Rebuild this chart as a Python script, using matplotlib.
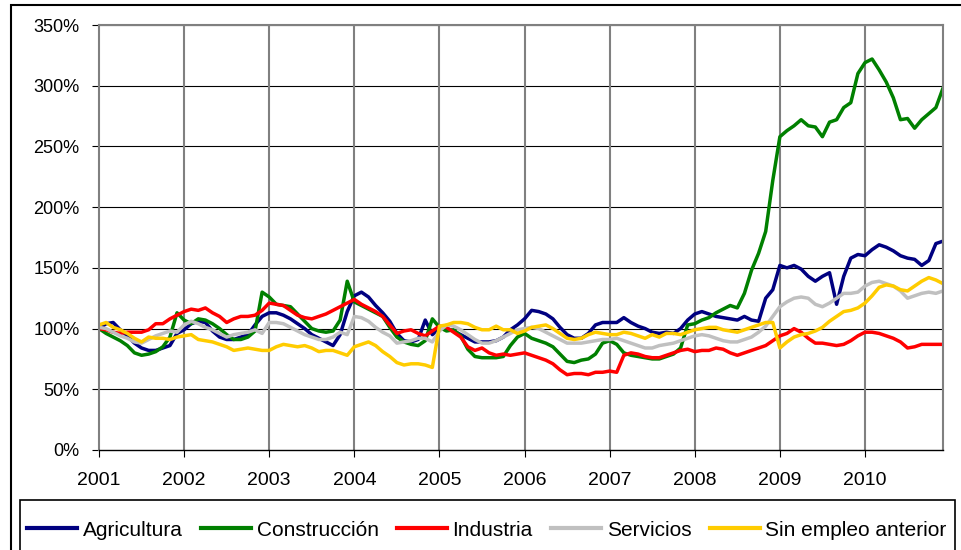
import numpy as np
import matplotlib
matplotlib.use("Agg")
import matplotlib.pyplot as plt
from matplotlib.patches import Rectangle
from matplotlib.lines import Line2D

plt.rcParams['font.family'] = ['Liberation Sans', 'DejaVu Sans']

# datos mensuales ene-2001 .. dic-2010 (indice, 2001 = 100%)
years = ['2001', '2002', '2003', '2004', '2005', '2006', '2007', '2008', '2009', '2010']

agricultura = [
    100, 104, 105, 99, 94, 88, 84, 82, 82, 84, 86, 96,
    99, 104, 106, 105, 98, 93, 91, 91, 93, 95, 103, 110,
    113, 113, 111, 108, 104, 100, 95, 92, 89, 86, 95, 114,
    127, 130, 126, 119, 113, 106, 96, 90, 89, 91, 107, 95,
    100, 100, 98, 95, 92, 89, 89, 89, 90, 93, 99, 103,
    108, 115, 114, 112, 108, 101, 95, 92, 92, 96, 103, 105,
    105, 105, 109, 105, 102, 100, 97, 96, 97, 96, 100, 107,
    112, 114, 112, 110, 109, 108, 107, 110, 107, 106, 125, 132,
    152, 150, 152, 149, 143, 139, 143, 146, 120, 143, 158, 161,
    160, 165, 169, 167, 164, 160, 158, 157, 152, 156, 170, 172,
]
construccion = [
    100, 96, 93, 90, 86, 80, 78, 79, 81, 85, 93, 113,
    107, 104, 108, 107, 104, 100, 95, 91, 91, 93, 98, 130,
    126, 120, 119, 118, 112, 106, 100, 98, 97, 98, 107, 139,
    122, 119, 116, 113, 110, 101, 93, 89, 87, 86, 90, 108,
    101, 98, 99, 94, 83, 77, 76, 76, 76, 77, 86, 93,
    96, 92, 90, 88, 85, 79, 73, 72, 74, 75, 79, 88,
    90, 87, 80, 78, 77, 76, 75, 75, 77, 79, 84, 103,
    104, 107, 109, 113, 116, 119, 117, 129, 148, 162, 180, 222,
    258, 263, 267, 272, 267, 266, 258, 270, 272, 282, 286, 310,
    319, 322, 313, 303, 290, 272, 273, 265, 272, 277, 282, 298,
]
industria = [
    100, 99, 97, 96, 97, 97, 97, 99, 104, 104, 108, 111,
    114, 116, 115, 117, 113, 110, 105, 108, 110, 110, 111, 115,
    121, 120, 119, 115, 111, 109, 108, 110, 112, 115, 118, 121,
    124, 120, 117, 114, 110, 103, 96, 98, 99, 96, 94, 98,
    102, 101, 97, 93, 85, 82, 84, 80, 78, 79, 78, 79,
    80, 78, 76, 74, 71, 66, 62, 63, 63, 62, 64, 64,
    65, 64, 78, 80, 79, 77, 76, 76, 78, 80, 82, 83,
    81, 82, 82, 84, 83, 80, 78, 80, 82, 84, 86, 90,
    94, 96, 100, 97, 92, 88, 88, 87, 86, 87, 90, 94,
    97, 97, 96, 94, 92, 89, 84, 85, 87, 87, 87, 87,
]
servicios = [
    101, 100, 97, 94, 92, 89, 88, 91, 94, 96, 98, 97,
    103, 106, 104, 101, 99, 96, 93, 95, 96, 97, 99, 96,
    105, 105, 104, 101, 98, 95, 93, 91, 91, 93, 97, 95,
    110, 109, 106, 101, 97, 94, 88, 89, 90, 92, 92, 89,
    98, 103, 102, 99, 95, 91, 88, 88, 90, 93, 96, 99,
    100, 101, 100, 97, 94, 91, 88, 88, 88, 89, 90, 91,
    91, 92, 90, 88, 86, 84, 84, 86, 87, 88, 90, 92,
    94, 95, 94, 92, 90, 89, 89, 91, 93, 97, 102, 110,
    118, 122, 125, 126, 125, 120, 118, 121, 125, 129, 129, 130,
    135, 138, 139, 137, 135, 131, 125, 127, 129, 130, 129, 131,
]
sin_empleo = [
    103, 105, 101, 99, 96, 92, 89, 93, 92, 92, 91, 93,
    94, 95, 91, 90, 89, 87, 85, 82, 83, 84, 83, 82,
    82, 85, 87, 86, 85, 86, 84, 81, 82, 82, 80, 78,
    85, 87, 89, 86, 81, 77, 72, 70, 71, 71, 70, 68,
    102, 103, 105, 105, 104, 101, 99, 99, 102, 99, 99, 96,
    98, 101, 102, 103, 100, 96, 92, 91, 92, 95, 97, 96,
    95, 95, 97, 96, 94, 92, 95, 93, 96, 96, 95, 97,
    99, 100, 101, 101, 99, 98, 97, 99, 101, 103, 105, 105,
    84, 89, 93, 95, 96, 98, 101, 106, 110, 114, 115, 117,
    121, 127, 134, 136, 135, 132, 131, 135, 139, 142, 140, 137,
]

series = [
    ('Agricultura', agricultura, '#000080'),
    ('Construcción', construccion, '#008000'),
    ('Industria', industria, '#FF0000'),
    ('Servicios', servicios, '#C0C0C0'),
    ('Sin empleo anterior', sin_empleo, '#FFCC00'),
]

fig = plt.figure(figsize=(9.61, 5.5), dpi=100)
ax = fig.add_axes([99 / 961, 1 - 450 / 550, (943 - 99) / 961, (450 - 25) / 550])

x = np.arange(120)
for name, vals, col in series:
    ax.plot(x, vals, color=col, linewidth=2.5, label=name, solid_joinstyle='round')

ax.set_xlim(0, 119)
ax.set_ylim(0, 350)
ax.set_yticks(np.arange(0, 351, 50))
ax.set_yticklabels([f'{v}%' for v in range(0, 351, 50)])
ax.set_xticks(np.arange(0, 120, 12))
ax.set_xticklabels(years)

# rejilla: horizontales negras finas, verticales grises
for v in range(50, 351, 50):
    ax.axhline(v, color='black', linewidth=0.8, zorder=0)
for m in range(12, 120, 12):
    ax.axvline(m, color='#808080', linewidth=1.5, zorder=0)

for s in ['top', 'right', 'left']:
    ax.spines[s].set_color('#808080')
    ax.spines[s].set_linewidth(1.5)
ax.spines['bottom'].set_color('black')
ax.spines['bottom'].set_linewidth(1.0)

ax.tick_params(axis='both', length=5, color='black', width=0.8)
ax.tick_params(axis='x', labelsize=14, pad=11)
ax.tick_params(axis='y', labelsize=13, pad=9)

# marco exterior del grafico
fig.patches.append(Rectangle((11 / 961, -0.05), 1.1, 1 - 5 / 550 + 0.05,
                             transform=fig.transFigure, fill=False,
                             edgecolor='black', linewidth=1.5))
# caja de la leyenda
fig.patches.append(Rectangle((20 / 961, -0.05), (955 - 20) / 961, 1 - 500 / 550 + 0.05,
                             transform=fig.transFigure, fill=False,
                             edgecolor='black', linewidth=1.2))

handles = [Line2D([], [], color=c, linewidth=3) for _, _, c in series]
fig.legend(handles, [n for n, _, _ in series], loc='center',
           bbox_to_anchor=(487 / 961, 1 - 530 / 550), ncol=5, frameon=False,
           fontsize=15, handlelength=2.4, handletextpad=0.25, columnspacing=0.9)

fig.savefig('out.png', dpi=100)
